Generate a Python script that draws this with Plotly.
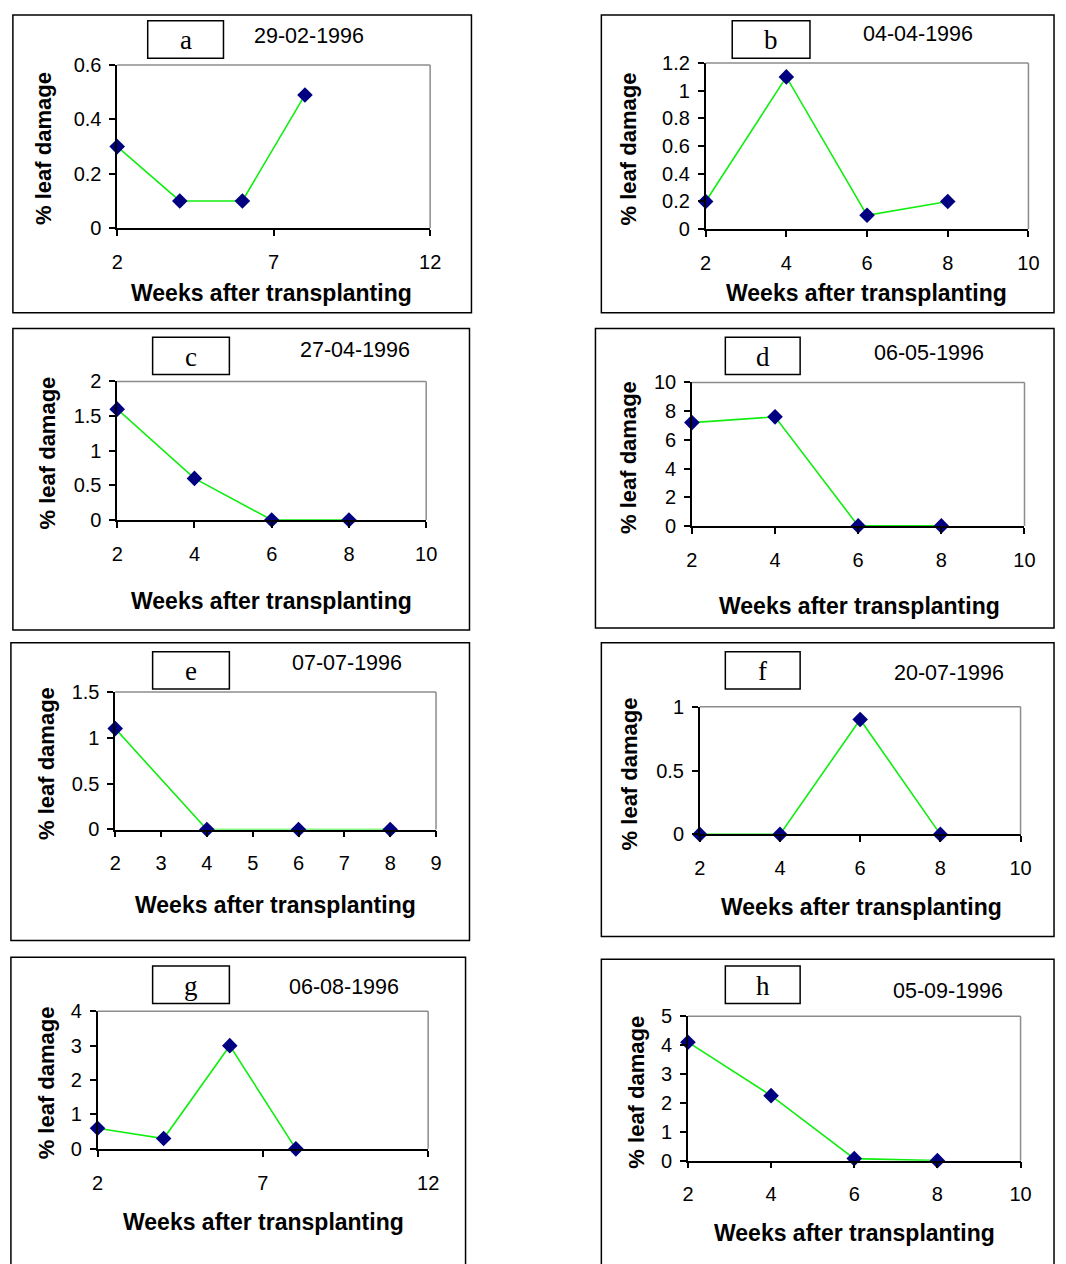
import plotly.graph_objects as go

W, H = 1066, 1264

# ---- data ----
weeks = [2, 4, 6, 8]
panel_letters = ["a", "b", "c", "d", "e", "f", "g", "h"]
panel_dates = ["29-02-1996", "04-04-1996", "27-04-1996", "06-05-1996",
               "07-07-1996", "20-07-1996", "06-08-1996", "05-09-1996"]
damage_a = [0.3, 0.1, 0.1, 0.49]
damage_b = [0.2, 1.1, 0.1, 0.2]
damage_c = [1.6, 0.6, 0.0, 0.0]
damage_d = [7.2, 7.6, 0.0, 0.0]
damage_e = [1.1, 0.0, 0.0, 0.0]
damage_f = [0.0, 0.0, 0.9, 0.0]
damage_g = [0.6, 0.3, 3.0, 0.0]
damage_h = [4.1, 2.25, 0.07, 0.0]
damages = [damage_a, damage_b, damage_c, damage_d, damage_e, damage_f, damage_g, damage_h]
x_ranges = [[2, 12], [2, 10], [2, 10], [2, 10], [2, 9], [2, 10], [2, 12], [2, 10]]
x_dticks = [5, 2, 2, 2, 1, 2, 5, 2]
y_ranges = [[0, 0.6], [0, 1.2], [0, 2], [0, 10], [0, 1.5], [0, 1], [0, 4], [0, 5]]
y_dticks = [0.2, 0.2, 0.5, 2, 0.5, 0.5, 1, 1]
x_title = "Weeks after transplanting"
y_title = "% leaf damage"

# ---- layout (pixel positions) ----
# plot area: x0, x1, ytop, ybottom
plot_px = [(113, 431, 55, 221), (711, 1039, 53, 222), (113, 427, 377, 518), (697, 1035, 378, 524),
           (111, 437, 693, 833), (705, 1031, 708, 838), (93, 429, 1018, 1158), (693, 1031, 1023, 1170)]
outer_px = [(7, 4, 473, 307), (605, 4, 1065, 307), (7, 323, 471, 630), (599, 323, 1065, 628),
            (5, 643, 471, 946), (605, 643, 1065, 942), (5, 963, 467, 1290), (605, 965, 1065, 1290)]
label_px = [(144, 10, 221, 48), (738, 10, 817, 48), (149, 332, 227, 370), (731, 332, 807, 370),
            (149, 652, 227, 690), (731, 652, 807, 690), (149, 972, 227, 1010), (731, 972, 807, 1010)]
date_px = [(308, 25), (927, 23), (355, 345), (938, 348), (347, 664), (958, 674), (343, 993), (957, 997)]
ytitle_px = [(38, 140), (633, 140), (42, 450), (632, 454), (41, 766), (634, 776), (41, 1091), (641, 1100)]
xtitle_px = [(270, 287), (874, 287), (270, 600), (867, 606), (274, 910), (869, 912), (262, 1232), (862, 1244)]


def px(x):
    return x / W


def py(y):
    return 1 - y / H


fig = go.Figure()
shapes = []
annotations = []
layout_axes = {}
tick_font = dict(family="Liberation Sans, Arial", size=20, color="black")

for i in range(8):
    n = "" if i == 0 else str(i + 1)
    xa, ya = "x" + n, "y" + n
    x0, x1, yt, yb = plot_px[i]
    layout_axes["xaxis" + n] = dict(
        domain=[px(x0), px(x1)], range=x_ranges[i], dtick=x_dticks[i], tick0=2,
        anchor=ya, showgrid=False, zeroline=False, showline=True, linecolor="black",
        linewidth=1.5, ticks="outside", ticklen=6, tickcolor="black", tickwidth=1.5,
        tickfont=tick_font, ticklabelstandoff=9, fixedrange=True,
    )
    layout_axes["yaxis" + n] = dict(
        domain=[py(yb), py(yt)], range=y_ranges[i], dtick=y_dticks[i], tick0=0,
        anchor=xa, showgrid=False, zeroline=False, showline=True, linecolor="black",
        linewidth=1.5, ticks="outside", ticklen=6, tickcolor="black", tickwidth=1.5,
        tickfont=tick_font, ticklabelstandoff=4, fixedrange=True,
    )
    fig.add_trace(go.Scatter(
        x=weeks, y=damages[i], xaxis=xa, yaxis=ya, mode="lines+markers",
        line=dict(color="#10EE10", width=1.6),
        marker=dict(symbol="diamond", size=12, color="#000080"),
        cliponaxis=False, showlegend=False,
    ))
    # gray top and right plot-area borders
    shapes.append(dict(type="line", xref=xa + " domain", yref=ya + " domain",
                       x0=0, x1=1, y0=1, y1=1, line=dict(color="#8C8C8C", width=1.5)))
    shapes.append(dict(type="line", xref=xa + " domain", yref=ya + " domain",
                       x0=1, x1=1, y0=0, y1=1, line=dict(color="#8C8C8C", width=1.5)))
    # outer frame
    ox0, oy0, ox1, oy1 = outer_px[i]
    shapes.append(dict(type="rect", xref="paper", yref="paper",
                       x0=px(ox0), x1=px(ox1), y0=py(oy1), y1=py(oy0),
                       line=dict(color="black", width=1.5)))
    # label box
    lx0, ly0, lx1, ly1 = label_px[i]
    shapes.append(dict(type="rect", xref="paper", yref="paper",
                       x0=px(lx0), x1=px(lx1), y0=py(ly1), y1=py(ly0),
                       line=dict(color="black", width=1.5)))
    annotations.append(dict(xref="paper", yref="paper", x=px((lx0 + lx1) / 2), y=py((ly0 + ly1) / 2 + 1),
                            text=panel_letters[i], showarrow=False, xanchor="center", yanchor="middle",
                            font=dict(family="Liberation Serif, Times New Roman", size=27, color="black")))
    dx, dy = date_px[i]
    annotations.append(dict(xref="paper", yref="paper", x=px(dx), y=py(dy),
                            text=panel_dates[i], showarrow=False, xanchor="center", yanchor="middle",
                            font=dict(family="Liberation Sans, Arial", size=21.5, color="black")))
    tx, ty = ytitle_px[i]
    annotations.append(dict(xref="paper", yref="paper", x=px(tx), y=py(ty),
                            text="<b>" + y_title + "</b>", textangle=-90, showarrow=False,
                            xanchor="center", yanchor="middle",
                            font=dict(family="Liberation Sans, Arial", size=22, color="black")))
    tx, ty = xtitle_px[i]
    annotations.append(dict(xref="paper", yref="paper", x=px(tx), y=py(ty),
                            text="<b>" + x_title + "</b>", showarrow=False,
                            xanchor="center", yanchor="middle",
                            font=dict(family="Liberation Sans, Arial", size=23, color="black")))

fig.update_layout(
    width=W, height=H, margin=dict(l=0, r=0, t=0, b=0),
    paper_bgcolor="white", plot_bgcolor="white",
    shapes=shapes, annotations=annotations, showlegend=False,
    **layout_axes,
)

fig.write_html(
    "out.html",
    config={"displayModeBar": False},
    post_script=("document.body.style.margin='0';document.body.style.padding='0';"
                 "document.body.style.overflow='hidden';"
                 "document.documentElement.style.overflow='hidden';"),
)
